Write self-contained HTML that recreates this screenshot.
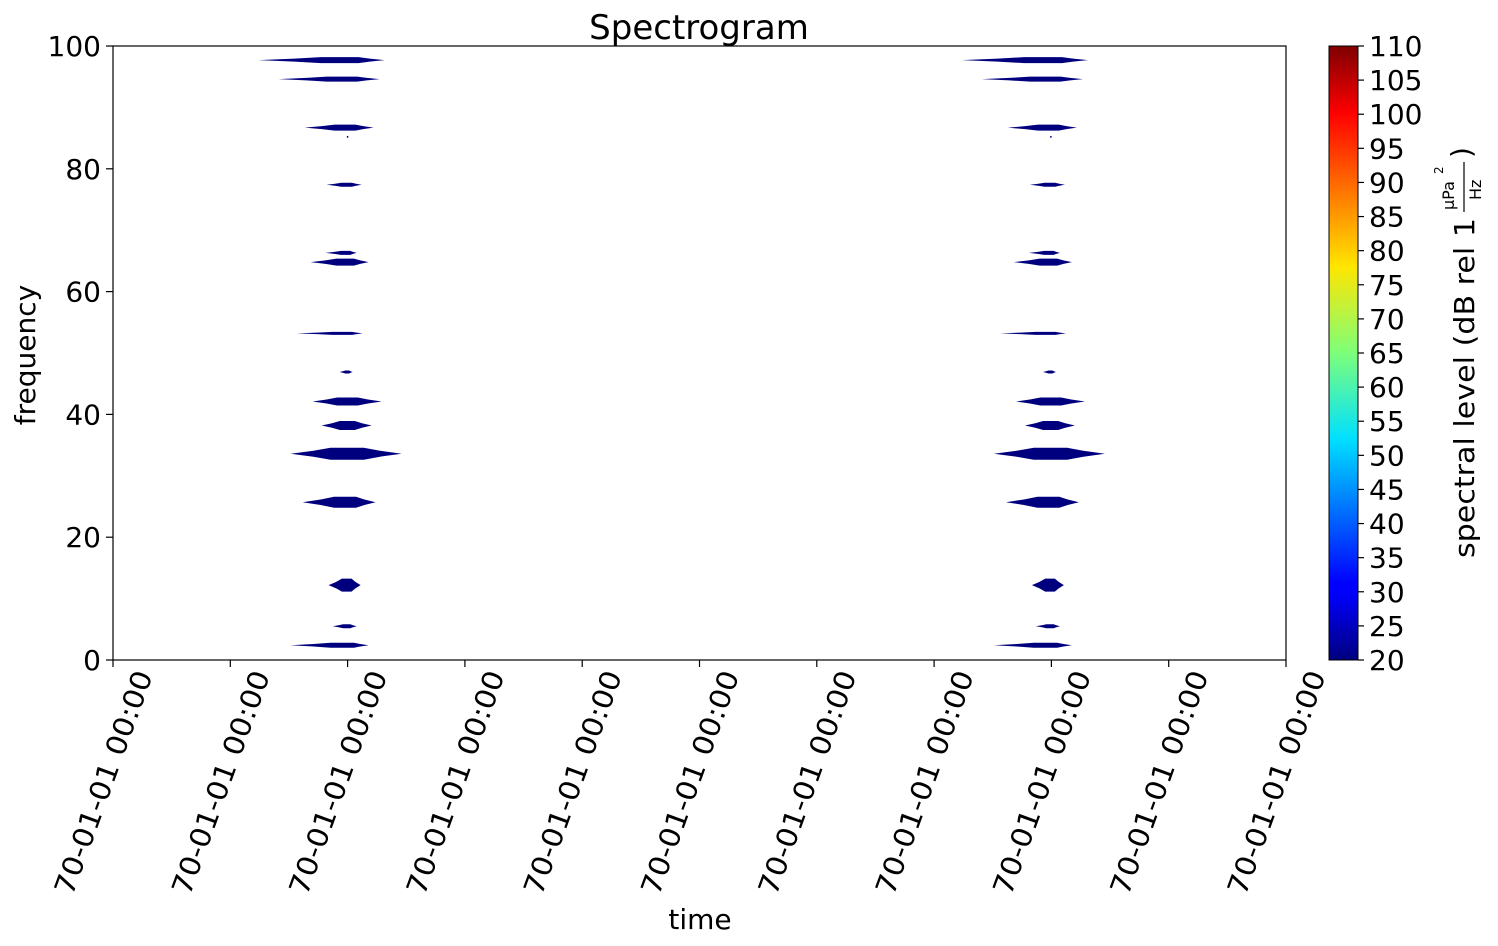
<!DOCTYPE html>
<html><head><meta charset="utf-8"><style>
html,body{margin:0;padding:0;background:#fff;}
svg{display:block;font-family:"DejaVu Sans","Liberation Sans",sans-serif;}
</style></head><body>
<svg id="chart" width="1498" height="946" viewBox="0 0 1498 946">
<defs>
<linearGradient id="jet" x1="0" y1="1" x2="0" y2="0">
<stop offset="0" stop-color="#00007f"/><stop offset="0.11" stop-color="#0000ff"/>
<stop offset="0.125" stop-color="#0000ff"/><stop offset="0.36" stop-color="#00e0ff"/>
<stop offset="0.5" stop-color="#7dff7a"/><stop offset="0.64" stop-color="#ffe600"/>
<stop offset="0.89" stop-color="#ff0000"/><stop offset="1" stop-color="#7f0000"/>
</linearGradient>
</defs>
<text x="699" y="39" font-size="34" text-anchor="middle">Spectrogram</text>
<g id="blobs"></g>
<rect x="113" y="46" width="1173" height="614" fill="none" stroke="#000" stroke-width="1.2"/>
<g id="yaxis"></g>
<g id="xaxis"></g>
<text transform="translate(35,355) rotate(-90)" font-size="28" text-anchor="middle">frequency</text>
<text x="700" y="929" font-size="28" text-anchor="middle">time</text>
<rect x="1329" y="46" width="29" height="614" fill="url(#jet)" stroke="#000" stroke-width="1"/>
<g id="cbaxis"></g>
<g transform="translate(1474,558) rotate(-90)">
<text x="0" y="0" font-size="28" textLength="340" lengthAdjust="spacingAndGlyphs">spectral level (dB rel 1</text>
<text x="348" y="-20" font-size="16">μPa</text><text x="384" y="-31" font-size="12">2</text>
<line x1="346" y1="-10" x2="396" y2="-10" stroke="#000" stroke-width="1.2"/>
<text x="358" y="7" font-size="16">Hz</text>
<text x="400" y="-3" font-size="28">)</text>
</g>
</svg>
<script>
const freqs=[97.7,94.6,86.7,85.2,77.4,66.3,64.8,53.2,46.9,42.1,38.2,33.6,25.7,12.2,5.5,2.4];
const leftExt=[89,69,43,1,21,22,37,51,8,35,26,57,45,19,15,57];
const rightExt=[37,32,26,1,14,9,21,15,5,34,24,54,28,13,9,21];
const heights=[6,5,6,2,4,4,7,3,3,8,9,12,11,13,4,5];
const columnTimes=[2,8];
const yTicks=[0,20,40,60,80,100];
const xTickCount=11;
const xTickLabel="70-01-01 00:00";
const cbTicks=[20,25,30,35,40,45,50,55,60,65,70,75,80,85,90,95,100,105,110];
const NS="http://www.w3.org/2000/svg";
const X0=113,X1=1286,Y0=660,Y1=46;
const xs=t=>X0+(X1-X0)*t/10;
const ys=f=>Y0-(Y0-Y1)*f/100;
const cs=v=>660-614*(v-20)/90;
function mk(tag,attrs,parent){const e=document.createElementNS(NS,tag);for(const k in attrs)e.setAttribute(k,attrs[k]);parent.appendChild(e);return e;}
const blobs=document.getElementById('blobs');
columnTimes.forEach((t,ci)=>{
  const cx=xs(t)+(ci==0?0:-0.5);
  freqs.forEach((f,i)=>{
    const y=ys(f),l=leftExt[i],r=rightExt[i],h=heights[i]/2;
    const p=mk('polygon',{points:`${cx-l},${y} ${cx-l*0.6},${y-h*0.5} ${cx-l*0.3},${y-h} ${cx+r*0.3},${y-h} ${cx+r*0.6},${y-h*0.5} ${cx+r},${y} ${cx+r*0.6},${y+h*0.5} ${cx+r*0.3},${y+h} ${cx-l*0.3},${y+h} ${cx-l*0.6},${y+h*0.5}`,fill:'#00007f'},blobs);
    
    
  });
});
const ya=document.getElementById('yaxis');
yTicks.forEach(v=>{
  const y=ys(v);
  const l=mk('line',{x1:106,x2:113,y1:y,y2:y,stroke:'#000','stroke-width':1.2},ya);
  
  
  const t=mk('text',{x:101,y:y+10,'font-size':28,'text-anchor':'end'},ya);t.textContent=v;
  
  
});
const xa=document.getElementById('xaxis');
for(let i=0;i<xTickCount;i++){
  const x=xs(i);
  const l=mk('line',{x1:x,x2:x,y1:660,y2:667,stroke:'#000','stroke-width':1.2},xa);
  
  
  const t=mk('text',{transform:`translate(${x+40},${675}) rotate(-70)`,'font-size':28,'text-anchor':'end',textLength:236,lengthAdjust:'spacingAndGlyphs'},xa);t.textContent=xTickLabel;
  
  
}
const cb=document.getElementById('cbaxis');
cbTicks.forEach(v=>{
  const y=cs(v);
  const l=mk('line',{x1:1358,x2:1364,y1:y,y2:y,stroke:'#000','stroke-width':1.2},cb);
  
  
  const t=mk('text',{x:1369,y:y+10,'font-size':28},cb);t.textContent=v;
  
  
});
</script>
</body></html>
